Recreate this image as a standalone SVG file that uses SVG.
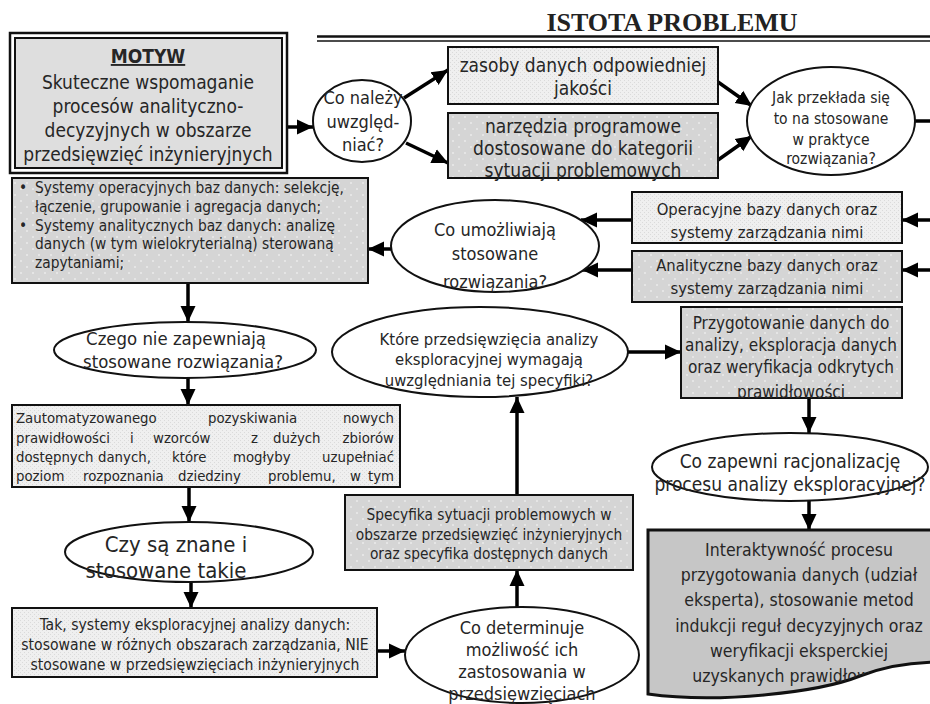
<svg xmlns="http://www.w3.org/2000/svg" width="930" height="704" viewBox="0 0 930 704">
<defs>
<style>
.t{font-family:"DejaVu Sans Condensed","DejaVu Sans",sans-serif;fill:#262626;text-anchor:middle}
.l{text-anchor:start}
.e{text-anchor:end}
.box{stroke:#111;stroke-width:2}
.ell{fill:#fff;stroke:#111;stroke-width:2}
.c{fill:none;stroke:#000;stroke-width:3.5;marker-end:url(#ah)}
.ln{fill:none;stroke:#000;stroke-width:3.5}
</style>
<marker id="ah" markerUnits="userSpaceOnUse" markerWidth="17" markerHeight="17" refX="16" refY="8.5" orient="auto"><path d="M0,1 L16,8.5 L0,16 z" fill="#000"/></marker>
<pattern id="pl" width="4" height="4" patternUnits="userSpaceOnUse"><rect width="4" height="4" fill="#efefef"/><rect x="0" y="0" width="1" height="1" fill="#dadada"/><rect x="2" y="2" width="1" height="1" fill="#dadada"/></pattern>
<pattern id="pd" width="12" height="12" patternUnits="userSpaceOnUse"><rect width="12" height="12" fill="#d5d5d5"/><circle cx="3" cy="3" r="1" fill="#ebebeb"/><circle cx="9" cy="9" r="1" fill="#ebebeb"/></pattern>
<clipPath id="cpU"><ellipse cx="495" cy="246" rx="104" ry="46"/></clipPath>
<clipPath id="cpP"><rect x="681" y="307" width="221" height="91"/></clipPath>
<clipPath id="cpD"><path d="M648,530 H940 V662 C905,662 880,668 860,676 C820,692 720,704 648,694 Z"/></clipPath>
</defs>

<g id="title">
<text x="672" y="31" style="font-family:'Liberation Serif',serif;font-weight:bold;font-size:26px;fill:#222;text-anchor:middle">ISTOTA PROBLEMU</text>
<line x1="317" y1="36.5" x2="930" y2="36.5" stroke="#111" stroke-width="2.5"/>
<line x1="317" y1="41" x2="930" y2="41" stroke="#111" stroke-width="1.5"/>
</g>

<g id="connectors">
<path class="c" d="M287,127 H313"/>
<path class="c" d="M404,98 L448,70"/>
<path class="c" d="M406,143 L448,163"/>
<path class="c" d="M718,82 L752,106"/>
<path class="c" d="M718,160 L752,136"/>
<path class="ln" d="M915,121 H935"/>
<path class="c" d="M935,220 H902"/>
<path class="c" d="M935,270 H902"/>
<path class="c" d="M632,220 H581"/>
<path class="c" d="M632,270 H582"/>
<path class="c" d="M391,249 H368"/>
<path class="c" d="M188,283 V322"/>
<path class="c" d="M188,378 V405"/>
<path class="c" d="M189,487 V522"/>
<path class="c" d="M191,582 V608"/>
<path class="c" d="M377,651 H405"/>
<path class="c" d="M517,607 V570"/>
<path class="c" d="M517,495 V397"/>
<path class="c" d="M628,352 H681"/>
<path class="c" d="M809,398 V433"/>
<path class="c" d="M809,501 V530"/>
</g>

<g id="motyw">
<rect x="10" y="33" width="277" height="140" fill="#fff" stroke="#111" stroke-width="2.5"/>
<rect x="15" y="38" width="267" height="130" fill="#dedede" stroke="#111" stroke-width="2"/>
<g style="font-size:19px">
<text class="t" x="148" y="63" font-weight="bold" text-decoration="underline">MOTYW</text>
<text class="t" x="148" y="89">Skuteczne wspomaganie</text>
<text class="t" x="148" y="113">procesów analityczno-</text>
<text class="t" x="148" y="137">decyzyjnych w obszarze</text>
<text class="t" x="148" y="161">przedsięwzięć inżynieryjnych</text>
</g>
</g>

<g id="co-nalezy">
<ellipse class="ell" cx="362" cy="121" rx="49" ry="41"/>
<g style="font-size:18px">
<text class="t" x="363" y="104">Co należy</text>
<text class="t" x="363" y="128">uwzględ-</text>
<text class="t" x="363" y="151">niać?</text>
</g>
</g>

<g id="zasoby">
<rect class="box" x="448" y="47" width="270" height="57" fill="url(#pl)"/>
<g style="font-size:19px">
<text class="t" x="583" y="72">zasoby danych odpowiedniej</text>
<text class="t" x="583" y="95">jakości</text>
</g>
</g>

<g id="narzedzia">
<rect class="box" x="448" y="113" width="270" height="65" fill="url(#pd)"/>
<g style="font-size:19px">
<text class="t" x="583" y="133">narzędzia programowe</text>
<text class="t" x="583" y="155">dostosowane do kategorii</text>
<text class="t" x="583" y="177">sytuacji problemowych</text>
</g>
</g>

<g id="jak">
<ellipse class="ell" cx="831" cy="121" rx="84" ry="54"/>
<g style="font-size:15.5px">
<text class="t" x="831" y="103">Jak przekłada się</text>
<text class="t" x="831" y="124">to na stosowane</text>
<text class="t" x="831" y="145">w praktyce</text>
<text class="t" x="831" y="164">rozwiązania?</text>
</g>
</g>

<g id="systemy">
<rect class="box" x="12" y="178" width="356" height="105" fill="url(#pd)"/>
<g style="font-size:15.3px">
<text class="t l" x="19" y="193">•</text>
<text class="t l" x="35" y="193">Systemy operacyjnych baz danych: selekcję,</text>
<text class="t l" x="35" y="212">łączenie, grupowanie i agregacja danych;</text>
<text class="t l" x="19" y="231">•</text>
<text class="t l" x="35" y="231">Systemy analitycznych baz danych: analizę</text>
<text class="t l" x="35" y="249">danych (w tym wielokryterialną) sterowaną</text>
<text class="t l" x="35" y="268">zapytaniami;</text>
</g>
</g>

<g id="co-umozliwiaja">
<ellipse class="ell" cx="495" cy="246" rx="104" ry="46"/>
<g style="font-size:18px" clip-path="url(#cpU)">
<text class="t" x="495" y="236">Co umożliwiają</text>
<text class="t" x="495" y="260">stosowane</text>
<text class="t" x="495" y="288">rozwiązania?</text>
</g>
</g>

<g id="operacyjne">
<rect class="box" x="632" y="192" width="270" height="51" fill="url(#pl)"/>
<g style="font-size:16.5px">
<text class="t" x="767" y="215">Operacyjne bazy danych oraz</text>
<text class="t" x="767" y="238">systemy zarządzania nimi</text>
</g>
</g>

<g id="analityczne">
<rect class="box" x="632" y="251" width="270" height="51" fill="url(#pd)"/>
<g style="font-size:16.5px">
<text class="t" x="767" y="271">Analityczne bazy danych oraz</text>
<text class="t" x="767" y="294">systemy zarządzania nimi</text>
</g>
</g>

<g id="czego">
<ellipse class="ell" cx="185" cy="350" rx="131" ry="28"/>
<g style="font-size:18.4px">
<text class="t" x="176" y="345">Czego nie zapewniają</text>
<text class="t" x="183" y="368">stosowane rozwiązania?</text>
</g>
</g>

<g id="zautomatyzowanego">
<rect class="box" x="12" y="405" width="388" height="82" fill="url(#pl)"/>
<g style="font-size:14.8px">
<text class="t l" y="423"><tspan x="16">Zautomatyzowanego</tspan><tspan x="208">pozyskiwania</tspan></text>
<text class="t e" x="394" y="423">nowych</text>
<text class="t l" y="443"><tspan x="16">prawidłowości</tspan><tspan x="130">i</tspan><tspan x="153">wzorców</tspan><tspan x="251">z</tspan><tspan x="273">dużych</tspan></text>
<text class="t e" x="394" y="443">zbiorów</text>
<text class="t l" y="462"><tspan x="16">dostępnych</tspan><tspan x="98">danych,</tspan><tspan x="172">które</tspan><tspan x="233">mogłyby</tspan></text>
<text class="t e" x="394" y="462">uzupełniać</text>
<text class="t l" y="481"><tspan x="16">poziom</tspan><tspan x="83">rozpoznania</tspan><tspan x="178">dziedziny</tspan><tspan x="268">problemu,</tspan><tspan x="350">w</tspan></text>
<text class="t e" x="394" y="481">tym</text>
</g>
</g>

<g id="czy-sa">
<ellipse class="ell" cx="189" cy="552" rx="124" ry="30"/>
<g style="font-size:22px">
<text class="t" x="176" y="552">Czy są znane i</text>
<text class="t" x="166" y="578">stosowane takie</text>
</g>
</g>

<g id="tak">
<rect class="box" x="12" y="608" width="365" height="69" fill="url(#pl)"/>
<g style="font-size:15.6px">
<text class="t" x="195" y="630">Tak, systemy eksploracyjnej analizy danych:</text>
<text class="t" x="195" y="650">stosowane w różnych obszarach zarządzania, NIE</text>
<text class="t" x="195" y="670">stosowane w przedsięwzięciach inżynieryjnych</text>
</g>
</g>

<g id="co-determinuje">
<ellipse class="ell" cx="522" cy="655" rx="117" ry="48"/>
<g style="font-size:18px">
<text class="t" x="522" y="634">Co determinuje</text>
<text class="t" x="522" y="656">możliwość ich</text>
<text class="t" x="522" y="678">zastosowania w</text>
<text class="t" x="522" y="700">przedsięwzięciach</text>
</g>
</g>

<g id="specyfika">
<rect class="box" x="345" y="495" width="288" height="75" fill="url(#pd)"/>
<g style="font-size:15.3px">
<text class="t" x="489" y="520">Specyfika sytuacji problemowych w</text>
<text class="t" x="489" y="540">obszarze przedsięwzięć inżynieryjnych</text>
<text class="t" x="489" y="559">oraz specyfika dostępnych danych</text>
</g>
</g>

<g id="ktore">
<ellipse class="ell" cx="480" cy="352" rx="148" ry="45"/>
<g style="font-size:16.5px">
<text class="t" x="489" y="345">Które przedsięwzięcia analizy</text>
<text class="t" x="489" y="365">eksploracyjnej wymagają</text>
<text class="t" x="489" y="386">uwzględniania tej specyfiki?</text>
</g>
</g>

<g id="przygotowanie">
<rect class="box" x="681" y="307" width="221" height="91" fill="url(#pd)"/>
<g style="font-size:17px" clip-path="url(#cpP)">
<text class="t" x="791" y="329">Przygotowanie danych do</text>
<text class="t" x="791" y="351">analizy, eksploracja danych</text>
<text class="t" x="791" y="373">oraz weryfikacja odkrytych</text>
<text class="t" x="791" y="398">prawidłowości</text>
</g>
</g>

<g id="co-zapewni">
<ellipse class="ell" cx="790" cy="467" rx="138" ry="34"/>
<g style="font-size:19px">
<text class="t" x="790" y="468">Co zapewni racjonalizację</text>
<text class="t" x="790" y="491">procesu analizy eksploracyjnej?</text>
</g>
</g>

<g id="interaktywnosc">
<path d="M648,530 H940 V662 C905,662 880,668 860,676 C820,692 720,704 648,694 Z" fill="#c6c6c6" stroke="#111" stroke-width="3"/>
<g style="font-size:17.5px" clip-path="url(#cpD)">
<text class="t" x="799" y="556">Interaktywność procesu</text>
<text class="t" x="799" y="581">przygotowania danych (udział</text>
<text class="t" x="799" y="606">eksperta), stosowanie metod</text>
<text class="t" x="799" y="632">indukcji reguł decyzyjnych oraz</text>
<text class="t" x="799" y="657">weryfikacji eksperckiej</text>
<text class="t" x="799" y="682">uzyskanych prawidłowości.</text>
</g>
</g>
</svg>
